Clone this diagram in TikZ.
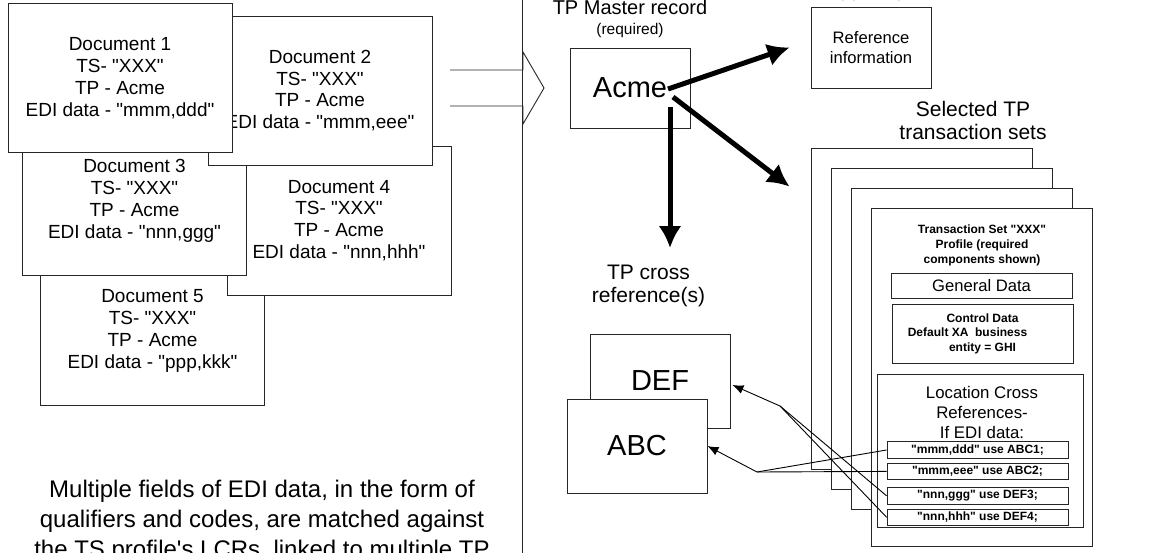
\documentclass[tikz,border=0pt]{standalone}
\usepackage{fontspec}
\setmainfont{Liberation Sans}[Ligatures=TeXOff]
\usetikzlibrary{positioning, arrows.meta}

\begin{document}
\begin{tikzpicture}[
    x=1pt, y=-1pt,
    >={Latex[width=9pt,length=11pt]},
    every node/.style={font=\fontsize{19}{21.8}\selectfont},
    plainbox/.style={rectangle, draw=black!85, fill=white, line width=0.9pt, align=center},
    docbox/.style={plainbox, minimum width=224pt, minimum height=149pt},
    txpage/.style={plainbox, minimum width=221pt, minimum height=321pt},
    lcrrow/.style={plainbox, minimum width=181pt, minimum height=16.5pt, inner sep=0pt, font=\bfseries\fontsize{12}{14}\selectfont},
    bigtext/.style={font=\fontsize{29}{34}\selectfont},
    heading/.style={font=\fontsize{21}{23}\selectfont, align=center},
    bigarrow/.style={-{Latex[width=23pt,length=22pt]}, line width=5pt},
    link/.style={->, line width=0.9pt}
]
\useasboundingbox (0,0) rectangle (1161,552);

% Documents, bottom one first
\node[docbox] (doc5) at (152.5,331) {Document 5\\TS- "XXX"\\TP - Acme\\EDI data - "ppp,kkk"};
\node[docbox] (doc4) at (339,220.5) {Document 4\\TS- "XXX"\\TP - Acme\\EDI data - "nnn,hhh"};
\node[docbox] (doc3) at (134.5,201) {Document 3\\TS- "XXX"\\TP - Acme\\EDI data - "nnn,ggg"};
\node[docbox] (doc2) at (320,90.5) {Document 2\\TS- "XXX"\\TP - Acme\\EDI data - "mmm,eee"};
\node[docbox] (doc1) at (120,78) {Document 1\\TS- "XXX"\\TP - Acme\\EDI data - "mmm,ddd"};

% Note under the documents
\node[font=\fontsize{24}{30}\selectfont, align=center] (note) at (262,521) {Multiple fields of EDI data, in the form of\\qualifiers and codes, are matched against\\the TS profile's LCRs, linked to multiple TP};

% Divider and hollow arrow
\draw[draw=black!85, line width=0.9pt] (522,-2) -- (522,554);
\draw[draw=black!85, line width=0.9pt] (450,70) -- (523,70) -- (523,52) -- (544,88) -- (523,124) -- (523,106) -- (450,106);

% TP master record
\node[plainbox, bigtext, minimum width=120pt, minimum height=80pt] (acme) at (630,88) {Acme};
\node[font=\fontsize{15.5}{18}\selectfont] (req) [above=6pt of acme] {(required)};
\node[font=\fontsize{20}{23}\selectfont] (master) [above=2pt of req] {TP Master record};

% Reference information
\node[plainbox, font=\fontsize{16.6}{19.7}\selectfont, minimum width=120pt, minimum height=81pt] (refinfo) at (871,47.5) {Reference\\information};
\node[font=\fontsize{15.5}{18}\selectfont] (opt) [above=2pt of refinfo] {(optional)};

% Selected transaction sets
\node[heading] (seltitle) at (973,120.5) {Selected TP\\transaction sets};
\foreach \i/\n in {0/pga,1/pgb,2/pgc}
    \node[txpage] (\n) at (921.5+20*\i, 308.5+20*\i) {};
\node[txpage, minimum height=338pt] (pgd) at (981.5,377) {};

\node[font=\bfseries\fontsize{12}{15}\selectfont, align=center] (profile) at (982,245) {Transaction Set "XXX"\\Profile (required\\components shown)};
\node[plainbox, minimum width=181pt, minimum height=25pt, font=\fontsize{16.6}{19}\selectfont] (general) at (981.5,285.5) {General Data};
\node[plainbox, minimum width=181pt, minimum height=59pt, font=\bfseries\fontsize{12}{14.5}\selectfont] (control) at (982.5,333.5) {Control Data\\Default XA\ \ business\rule{30pt}{0pt}\\entity = GHI};
\node[plainbox, minimum width=206pt, minimum height=153pt] (lcr) at (980,450.5) {};
\node[font=\fontsize{16.8}{20}\selectfont, align=center] (lcrtitle) at (982,412) {Location Cross\\References-\\If EDI data:};
\node[lcrrow] (r1) at (977.5,450) {"mmm,ddd" use ABC1;};
\node[lcrrow] (r2) [below=4pt of r1] {"mmm,eee" use ABC2;};
\node[lcrrow] (r3) [below=7pt of r2] {"nnn,ggg" use DEF3;};
\node[lcrrow] (r4) [below=4pt of r3] {"nnn,hhh" use DEF4;};

% TP cross references
\node[heading] (xreftitle) at (648.5,286) {TP cross\\reference(s)};
\node[plainbox, bigtext, minimum width=140pt, minimum height=94pt] (def) at (660,381) {DEF};
\node[plainbox, bigtext, minimum width=140pt, minimum height=94pt] (abc) at (637,446) {ABC};

% LCR links
\coordinate (abcjoin) at (757,472);
\coordinate (defjoin) at (780,406);
\draw[line width=0.9pt] (r1.west) -- (abcjoin);
\draw[link] (r2.west) -- (abcjoin) -- (abc.east);
\draw[line width=0.9pt] (r3.west) -- (defjoin);
\draw[link] (r4.west) -- (defjoin) -- ([xshift=2pt,yshift=-4pt]def.east);

% Thick arrows out of the master record
\draw[bigarrow] ([xshift=38pt,yshift=-1pt]acme.center) -- ([xshift=-21pt]refinfo.west);
\draw[bigarrow] ([xshift=43pt,yshift=-9pt]acme.center) -- ([xshift=-21pt,yshift=-39pt]pga.north west);
\draw[bigarrow] ([xshift=40pt,yshift=-19pt]acme.center) -- ++(0,141);

\end{tikzpicture}
\end{document}
